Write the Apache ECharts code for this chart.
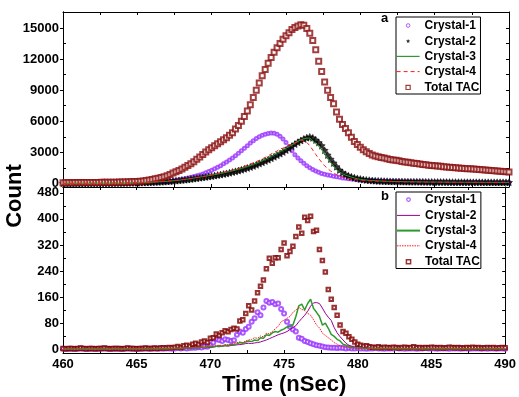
<!DOCTYPE html>
<html>
<head>
<meta charset="utf-8">
<script src="https://cdn.jsdelivr.net/npm/echarts@6/dist/echarts.min.js"></script>
<style>
  html, body { margin: 0; padding: 0; background: #fff; }
  #chart { width: 519px; height: 397px; }
</style>
</head>
<body>
<div id="chart"></div>
<script>
// sampling: t = 460 + i * 0.2 nSec
const T0 = 460;
const STEP = 0.2;

// panel a (counts)
const tacA = [
  80, 80, 85, 80, 85, 90, 90, 90, 95, 95,
  100, 100, 105, 110, 110, 115, 120, 125, 130, 135,
  140, 150, 160, 170, 185, 200, 220, 250, 290, 340,
  390, 450, 510, 580, 660, 750, 870, 1000, 1130, 1260,
  1400, 1560, 1730, 1900, 2100, 2330, 2560, 2800, 3030, 3250,
  3450, 3640, 3830, 4020, 4220, 4420, 4650, 4900, 5250, 5600,
  6000, 6450, 7000, 7600, 8300, 9000, 9700, 10400, 11000, 11600,
  12150, 12650, 13100, 13500, 13900, 14250, 14550, 14850, 15050, 15200,
  15300, 15250, 14950, 14500, 13800, 12900, 11800, 10800, 9800, 9000,
  8300, 7700, 6900, 6200, 5700, 5300, 4900, 4450, 4050, 3750,
  3500, 3250, 3050, 2900, 2750, 2650, 2570, 2500, 2450, 2380,
  2320, 2270, 2230, 2180, 2130, 2080, 2040, 2000, 1960, 1920,
  1880, 1840, 1800, 1770, 1740, 1710, 1680, 1650, 1620, 1600,
  1570, 1550, 1520, 1500, 1480, 1450, 1430, 1410, 1390, 1370,
  1340, 1320, 1300, 1280, 1250, 1230, 1200, 1180, 1160, 1130,
  1110
];
const c1A = [
  20, 20, 20, 20, 25, 25, 25, 25, 30, 30,
  30, 30, 35, 35, 35, 40, 40, 45, 45, 50,
  50, 55, 60, 65, 70, 75, 80, 85, 95, 105,
  115, 125, 140, 155, 170, 190, 220, 260, 300, 350,
  400, 450, 520, 590, 670, 750, 820, 920, 1030, 1150,
  1280, 1420, 1560, 1720, 1900, 2080, 2270, 2460, 2680, 2910,
  3150, 3400, 3650, 3900, 4130, 4350, 4510, 4650, 4760, 4830,
  4860, 4840, 4750, 4560, 4300, 3950, 3550, 3150, 2780, 2450,
  2180, 1950, 1720, 1520, 1350, 1200, 1080, 970, 890, 820,
  760, 700, 640, 590, 540, 500, 460, 430, 400, 370,
  345, 325, 305, 290, 275, 260, 250, 240, 230, 220,
  210, 205, 200, 195, 190, 185, 180, 176, 172, 168,
  164, 160, 156, 152, 148, 145, 142, 139, 136, 133,
  130, 127, 125, 122, 120, 118, 116, 114, 112, 110,
  108, 106, 104, 102, 100, 98, 96, 94, 92, 91,
  90
];
const c2A = [
  10, 10, 10, 12, 12, 14, 14, 16, 16, 18,
  20, 22, 24, 26, 28, 30, 33, 36, 40, 44,
  48, 53, 58, 64, 70, 78, 86, 95, 105, 115,
  125, 138, 150, 165, 180, 200, 220, 245, 270, 300,
  330, 360, 390, 430, 470, 510, 550, 590, 630, 670,
  710, 760, 810, 860, 910, 970, 1030, 1100, 1170, 1240,
  1320, 1410, 1500, 1590, 1690, 1800, 1920, 2040, 2170, 2300,
  2440, 2580, 2730, 2880, 3040, 3220, 3410, 3600, 3800, 3980,
  4150, 4300, 4420, 4490, 4400, 4200, 3950, 3650, 3200, 2750,
  2350, 1980, 1620, 1300, 1060, 880, 740, 640, 560, 490,
  430, 380, 340, 310, 285, 265, 250, 235, 222, 210,
  200, 195, 190, 186, 182, 178, 174, 170, 166, 162,
  159, 156, 153, 150, 147, 144, 141, 138, 136, 134,
  132, 130, 128, 126, 124, 122, 120, 119, 118, 117,
  116, 115, 114, 113, 112, 111, 110, 110, 110, 110,
  110
];
const c3A = [
  10, 10, 11, 12, 13, 14, 15, 16, 17, 19,
  21, 23, 25, 27, 29, 32, 35, 38, 42, 46,
  50, 55, 60, 66, 73, 80, 88, 97, 107, 118,
  130, 143, 157, 172, 190, 210, 232, 256, 282, 310,
  360, 395, 430, 465, 520, 580, 620, 660, 710, 755,
  800, 850, 900, 960, 1020, 1080, 1150, 1220, 1290, 1370,
  1450, 1540, 1630, 1730, 1840, 1950, 2070, 2200, 2330, 2470,
  2620, 2770, 2930, 3090, 3250, 3400, 3560, 3720, 3900, 4060,
  4200, 4300, 4360, 4380, 4100, 3800, 3600, 3300, 2850, 2450,
  2050, 1690, 1350, 1110, 940, 800, 700, 610, 530, 460,
  400, 360, 330, 305, 285, 270, 255, 240, 228, 215,
  205, 198, 192, 186, 180, 175, 170, 166, 162, 158,
  155, 152, 149, 146, 143, 140, 138, 136, 134, 132,
  130, 128, 126, 124, 122, 120, 119, 118, 117, 116,
  115, 114, 113, 112, 111, 110, 110, 110, 110, 110,
  110
];
const c4A = [
  10, 11, 12, 13, 14, 15, 16, 18, 20, 22,
  24, 26, 28, 31, 34, 37, 40, 44, 48, 53,
  58, 64, 70, 77, 85, 93, 102, 112, 123, 135,
  148, 162, 177, 194, 212, 232, 254, 278, 304, 332,
  362, 395, 430, 470, 510, 555, 600, 650, 700, 770,
  850, 900, 960, 1020, 1080, 1150, 1220, 1300, 1380, 1460,
  1550, 1650, 1760, 1870, 1980, 2100, 2230, 2370, 2510, 2650,
  2850, 2990, 3130, 3350, 3400, 3550, 3700, 3800, 3900, 4100,
  4200, 4100, 3950, 3650, 3230, 2800, 2400, 2050, 1700, 1450,
  1200, 1010, 850, 720, 620, 530, 470, 420, 380, 345,
  315, 290, 270, 255, 240, 228, 216, 206, 198, 190,
  183, 177, 171, 166, 161, 157, 153, 149, 146, 143,
  140, 137, 135, 133, 131, 129, 127, 125, 123, 121,
  120, 119, 118, 117, 116, 115, 114, 113, 112, 111,
  110, 110, 110, 110, 110, 110, 110, 110, 110, 110,
  110
];

// panel b (counts)
const tacB = [
  2, 1, 2, 2, 1, 2, 3, 2, 1, 2,
  2, 1, 2, 2, 3, 2, 1, 2, 2, 2,
  1, 2, 3, 2, 2, 1, 2, 2, 3, 2,
  2, 3, 2, 3, 4, 3, 5, 4, 6, 8,
  5, 10, 12, 9, 15, 18, 14, 22, 25, 20,
  33, 35, 46, 42, 50, 56, 53, 60, 64, 62,
  86, 90, 109, 133, 120, 148, 173, 193, 212, 247,
  279, 264, 281, 281, 306, 326, 287, 300, 316, 346,
  375, 356, 405, 395, 408, 361, 365, 306, 272, 237,
  183, 153, 128, 104, 74, 54, 49, 38, 30, 22,
  15, 12, 9, 10, 7, 6, 5, 7, 4, 6,
  5, 4, 6, 5, 3, 5, 6, 4, 5, 7,
  4, 5, 3, 5, 4, 6, 5, 4, 5, 3,
  4, 6, 5, 4, 5, 4, 3, 5, 4, 6,
  4, 5, 3, 4, 5, 4, 5, 3, 4, 5,
  4
];
const c1B = [
  1, 0, 1, 1, 0, 1, 2, 1, 0, 1,
  1, 0, 1, 1, 2, 1, 0, 1, 1, 1,
  0, 1, 2, 1, 1, 0, 1, 1, 2, 1,
  1, 2, 1, 2, 1, 2, 2, 1, 2, 3,
  2, 3, 2, 3, 4, 4, 6, 5, 8, 7,
  12, 20, 30, 28, 25, 30, 28, 25, 27, 44,
  54, 50, 62, 69, 84, 95, 113, 104, 128, 148,
  142, 145, 138, 140, 123, 109, 84, 69, 60, 54,
  35, 32, 25, 22, 18, 15, 12, 10, 8, 6,
  5, 4, 4, 3, 4, 3, 2, 3, 2, 2,
  3, 2, 2, 1, 2, 2, 3, 2, 2, 1,
  2, 2, 2, 3, 2, 2, 1, 2, 2, 2,
  1, 2, 2, 3, 2, 2, 2, 1, 2, 2,
  2, 1, 2, 2, 2, 1, 2, 2, 1, 2,
  2, 2, 1, 2, 1, 2, 2, 1, 2, 2,
  1
];
const c2B = [
  0, 1, 0, 0, 1, 0, 1, 0, 0, 1,
  0, 1, 1, 0, 1, 0, 1, 1, 0, 1,
  1, 0, 1, 1, 1, 0, 1, 1, 2, 1,
  1, 2, 1, 1, 2, 1, 2, 2, 1, 2,
  2, 3, 2, 3, 4, 3, 4, 5, 4, 5,
  5, 6, 8, 7, 9, 10, 9, 11, 12, 13,
  14, 15, 17, 18, 17, 19, 20, 22, 25, 28,
  32, 36, 40, 44, 47, 50, 54, 60, 66, 72,
  84, 94, 104, 116, 132, 142, 143, 140, 126, 110,
  98, 88, 66, 50, 38, 28, 18, 12, 8, 5,
  4, 3, 3, 2, 2, 3, 2, 1, 2, 2,
  2, 1, 2, 2, 1, 2, 1, 2, 2, 1,
  1, 2, 1, 2, 1, 1, 2, 1, 1, 2,
  1, 1, 2, 1, 1, 1, 2, 1, 1, 2,
  1, 1, 1, 2, 1, 1, 1, 2, 1, 1,
  1
];
const c3B = [
  0, 0, 1, 0, 0, 1, 0, 0, 1, 0,
  1, 0, 0, 1, 0, 1, 0, 1, 1, 0,
  1, 0, 1, 1, 0, 1, 1, 1, 0, 1,
  1, 1, 2, 1, 1, 2, 1, 2, 2, 2,
  2, 3, 3, 4, 3, 5, 4, 6, 5, 7,
  8, 7, 9, 10, 9, 12, 11, 14, 13, 16,
  20, 18, 22, 25, 23, 28, 26, 35, 33, 44,
  42, 50, 54, 52, 58, 62, 68, 70, 74, 100,
  133, 138, 120, 140, 153, 125, 113, 100, 74, 80,
  64, 45, 39, 30, 25, 15, 12, 8, 5, 4,
  3, 3, 2, 2, 3, 2, 1, 2, 2, 1,
  2, 2, 1, 1, 2, 1, 2, 1, 1, 2,
  1, 1, 2, 1, 1, 2, 1, 1, 1, 2,
  1, 1, 1, 2, 1, 1, 1, 1, 2, 1,
  1, 1, 1, 1, 2, 1, 1, 1, 1, 1,
  1
];
const c4B = [
  1, 0, 0, 1, 0, 0, 1, 0, 1, 0,
  0, 1, 0, 1, 1, 0, 1, 0, 1, 1,
  0, 1, 1, 0, 1, 1, 1, 2, 1, 1,
  2, 1, 1, 2, 2, 1, 2, 2, 3, 2,
  3, 3, 4, 3, 5, 5, 6, 5, 7, 8,
  10, 9, 11, 12, 11, 14, 13, 15, 17, 20,
  22, 20, 25, 28, 30, 35, 33, 40, 38, 49,
  47, 54, 62, 70, 84, 89, 95, 100, 113, 120,
  128, 122, 118, 110, 104, 90, 74, 65, 49, 42,
  35, 28, 20, 15, 10, 7, 6, 4, 3, 3,
  2, 2, 3, 2, 2, 1, 2, 2, 1, 2,
  1, 2, 1, 1, 2, 1, 1, 2, 1, 1,
  1, 2, 1, 1, 1, 2, 1, 1, 1, 1,
  2, 1, 1, 1, 1, 2, 1, 1, 1, 1,
  1, 2, 1, 1, 1, 1, 1, 2, 1, 1,
  1
];

// tick labels
const yLabelsA = [0, 3000, 6000, 9000, 12000, 15000];
const yMinorA = [1500, 4500, 7500, 10500, 13500, 16500];
const yLabelsB = [0, 80, 160, 240, 320, 400, 480];
const yMinorB = [40, 120, 200, 280, 360, 440];

const pairs = (vals) => vals.map((v, i) => [+(T0 + i * STEP).toFixed(1), v]);

const FONT = 'Arial, "Liberation Sans", sans-serif';
const BLACK = '#000';
const PURPLE = '#9933ff';
const TAC_RED = '#8b1010';
const GREEN = '#2e9a2e';
const RED = '#ff1a1a';
const MAGENTA = '#990099';
const STAR = 'path://M0,-10L2.9,-4L9.5,-3.1L4.8,1.5L5.9,8.1L0,5L-5.9,8.1L-4.8,1.5L-9.5,-3.1L-2.9,-4Z';
// legend icons: small shapes inside a 20x20 box so they stay small
const ICON_CIRCLE = 'path://M0,0M20,20M13,10A3,3,0,1,1,7,10A3,3,0,1,1,13,10Z';
const ICON_SQUARE = 'path://M0,0M20,20M6.5,6.5L13.5,6.5L13.5,13.5L6.5,13.5Z';
const ICON_STAR = 'path://M0,0M20,20M10,6.4L11,8.6L13.4,8.9L11.7,10.5L12.1,12.9L10,11.8L7.9,12.9L8.3,10.5L6.6,8.9L9,8.6Z';
const labelStyle = { color: BLACK, fontWeight: 'bold', fontSize: 13, fontFamily: FONT };

const xAxisDef = (gridIndex, position, showLabel) => ({
  type: 'value',
  gridIndex,
  position,
  min: 460,
  max: 490,
  interval: 2.5,
  axisLine: { onZero: false, lineStyle: { color: BLACK, width: 1 } },
  axisTick: { inside: true, length: 3, lineStyle: { color: BLACK } },
  axisLabel: {
    show: showLabel,
    margin: 5,
    formatter: (v) => (v % 5 === 0 ? String(v) : ''),
    ...labelStyle,
  },
  splitLine: { show: false },
});

const yMainDef = (gridIndex, min, max, labels) => ({
  type: 'value',
  gridIndex,
  position: 'left',
  min,
  max,
  axisLine: { show: true, onZero: false, lineStyle: { color: BLACK } },
  axisTick: { show: true, inside: false, length: 3, customValues: labels, lineStyle: { color: BLACK } },
  axisLabel: { customValues: labels, margin: 4, formatter: (v) => String(v), ...labelStyle },
  splitLine: { show: false },
});

const yTickDef = (gridIndex, min, max, ticks, position) => ({
  type: 'value',
  gridIndex,
  position,
  min,
  max,
  axisLine: { show: true, onZero: false, lineStyle: { color: BLACK } },
  axisTick: { show: true, inside: true, length: 3, customValues: ticks, lineStyle: { color: BLACK } },
  axisLabel: { show: false },
  splitLine: { show: false },
});

const legendText = { color: BLACK, fontWeight: 'bold', fontSize: 12, fontFamily: FONT, lineHeight: 12 };
const noSymbol = { opacity: 0 };

const legendBase = {
  orient: 'vertical',
  left: 396,
  itemWidth: 23,
  itemHeight: 12,
  itemGap: 3.2,
  borderColor: BLACK,
  borderWidth: 1,
  selectedMode: false,
  symbolKeepAspect: true,
  textStyle: legendText,
};

const chart = echarts.init(document.getElementById('chart'), null, { renderer: 'canvas' });

chart.setOption({
  animation: false,
  backgroundColor: '#fff',
  title: [
    { text: 'a', left: 381, top: 12, padding: 0, textStyle: { ...labelStyle } },
    { text: 'b', left: 381, top: 190, padding: 0, textStyle: { ...labelStyle } },
  ],
  graphic: [
    {
      type: 'text',
      x: 15,
      y: 196,
      rotation: Math.PI / 2,
      style: {
        text: 'Count',
        font: 'bold 22px Arial, "Liberation Sans", sans-serif',
        fill: BLACK,
        textAlign: 'center',
        textVerticalAlign: 'middle',
      },
    },
  ],
  legend: [
    {
      ...legendBase,
      top: 17,
      padding: [2, 1, 0, 0],
      data: [
        { name: 'Crystal-1', icon: ICON_CIRCLE, itemStyle: { color: '#fff', borderColor: PURPLE, borderWidth: 1 } },
        { name: 'Crystal-2', icon: ICON_STAR, itemStyle: { color: BLACK, borderWidth: 0 } },
        { name: 'Crystal-3', itemStyle: noSymbol, lineStyle: { color: GREEN, width: 1.2 } },
        { name: 'Crystal-4', itemStyle: noSymbol, lineStyle: { color: RED, width: 1, type: [4, 3] } },
        { name: 'Total TAC', icon: ICON_SQUARE, itemStyle: { color: '#fff', borderColor: TAC_RED, borderWidth: 1.2 } },
      ],
    },
    {
      ...legendBase,
      top: 192,
      padding: [1, 1, 0, 0],
      formatter: (name) => name.slice(2),
      data: [
        { name: 'b:Crystal-1', icon: ICON_CIRCLE, itemStyle: { color: '#fff', borderColor: PURPLE, borderWidth: 1.2 } },
        { name: 'b:Crystal-2', itemStyle: noSymbol, lineStyle: { color: MAGENTA, width: 1 } },
        { name: 'b:Crystal-3', itemStyle: noSymbol, lineStyle: { color: GREEN, width: 2 } },
        { name: 'b:Crystal-4', itemStyle: noSymbol, lineStyle: { color: RED, width: 1, type: [1.5, 1] } },
        { name: 'b:Total TAC', icon: ICON_SQUARE, itemStyle: { color: '#fff', borderColor: '#800000', borderWidth: 1.5 } },
      ],
    },
  ],
  grid: [
    { left: 63, width: 446, top: 12, height: 175 },
    { left: 63, width: 446, top: 187, height: 172 },
  ],
  xAxis: [
    xAxisDef(0, 'bottom', false),
    xAxisDef(0, 'top', false),
    {
      ...xAxisDef(1, 'bottom', true),
      name: 'Time (nSec)',
      nameLocation: 'middle',
      nameGap: 21,
      nameTextStyle: { color: BLACK, fontWeight: 'bold', fontSize: 22, fontFamily: FONT },
    },
    xAxisDef(1, 'top', false),
  ],
  yAxis: [
    yMainDef(0, -340, 16540, yLabelsA),
    yTickDef(0, -340, 16540, yMinorA, 'left'),
    yTickDef(0, -340, 16540, yLabelsA.concat(yMinorA), 'right'),
    yMainDef(1, -12, 498, yLabelsB),
    yTickDef(1, -12, 498, yMinorB, 'left'),
    yTickDef(1, -12, 498, yLabelsB.concat(yMinorB), 'right'),
  ],
  series: [
    // panel a
    {
      name: 'Crystal-1', type: 'scatter', xAxisIndex: 0, yAxisIndex: 0,
      data: pairs(c1A), symbol: 'emptyCircle', symbolSize: 3,
      itemStyle: { color: PURPLE, borderColor: PURPLE, borderWidth: 1 },
    },
    {
      name: 'Crystal-2', type: 'scatter', xAxisIndex: 0, yAxisIndex: 0,
      data: pairs(c2A), symbol: STAR, symbolSize: 7,
      itemStyle: { color: BLACK, borderColor: BLACK, borderWidth: 0.6 },
    },
    {
      name: 'Crystal-3', type: 'line', xAxisIndex: 0, yAxisIndex: 0,
      data: pairs(c3A), symbol: 'none',
      itemStyle: { color: GREEN },
      lineStyle: { color: GREEN, width: 1 },
    },
    {
      name: 'Crystal-4', type: 'line', xAxisIndex: 0, yAxisIndex: 0,
      data: pairs(c4A), symbol: 'none',
      itemStyle: { color: RED },
      lineStyle: { color: RED, width: 1, type: [4, 3] },
    },
    {
      name: 'Total TAC', type: 'scatter', xAxisIndex: 0, yAxisIndex: 0,
      data: pairs(tacA), symbol: 'emptyRect', symbolSize: 5,
      itemStyle: { color: TAC_RED, borderColor: TAC_RED, borderWidth: 1 },
    },
    // panel b
    {
      name: 'b:Crystal-1', type: 'scatter', xAxisIndex: 2, yAxisIndex: 3,
      data: pairs(c1B), symbol: 'emptyCircle', symbolSize: 4,
      itemStyle: { color: PURPLE, borderColor: PURPLE, borderWidth: 1.2 },
    },
    {
      name: 'b:Crystal-2', type: 'line', xAxisIndex: 2, yAxisIndex: 3,
      data: pairs(c2B), symbol: 'none',
      itemStyle: { color: MAGENTA },
      lineStyle: { color: MAGENTA, width: 1 },
    },
    {
      name: 'b:Crystal-3', type: 'line', xAxisIndex: 2, yAxisIndex: 3,
      data: pairs(c3B), symbol: 'none',
      itemStyle: { color: GREEN },
      lineStyle: { color: GREEN, width: 1.5 },
    },
    {
      name: 'b:Crystal-4', type: 'line', xAxisIndex: 2, yAxisIndex: 3,
      data: pairs(c4B), symbol: 'none',
      itemStyle: { color: RED },
      lineStyle: { color: RED, width: 1, type: [1.5, 1] },
    },
    {
      name: 'b:Total TAC', type: 'scatter', xAxisIndex: 2, yAxisIndex: 3,
      data: pairs(tacB), symbol: 'emptyRect', symbolSize: 3.5,
      itemStyle: { color: '#800000', borderColor: '#800000', borderWidth: 1.3 },
    },
  ],
});
</script>
</body>
</html>
